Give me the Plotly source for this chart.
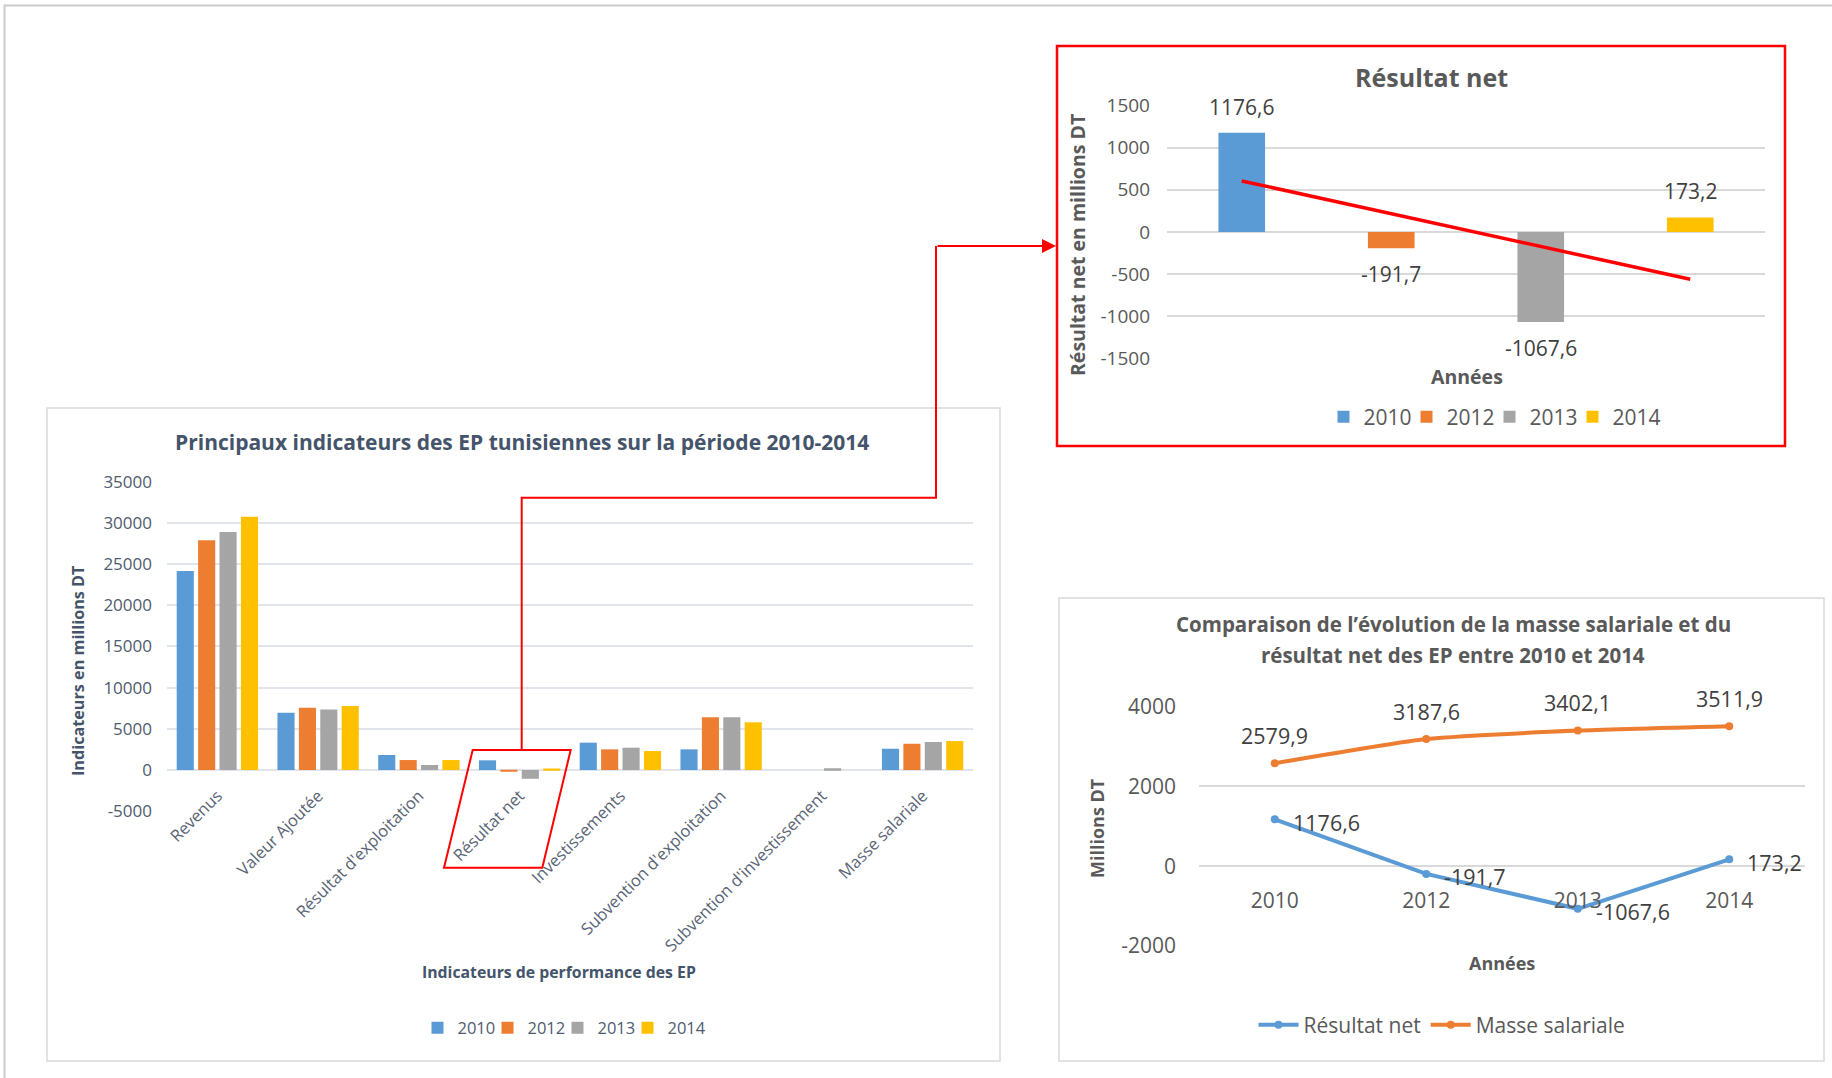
import plotly.graph_objects as go
import numpy as np

W, H = 1832, 1078
def px(x): return x / W
def py(y): return 1 - y / H

FONT = "Open Sans"

# ---------------- data ----------------
years = ["2010", "2012", "2013", "2014"]
year_colors = ["#5B9BD5", "#ED7D31", "#A5A5A5", "#FFC000"]

indicators = ["Revenus", "Valeur Ajoutée", "Résultat d'exploitation", "Résultat net",
              "Investissements", "Subvention d'exploitation", "Subvention d'investissement",
              "Masse salariale"]
ind_2010 = [24150, 6950, 1820, 1176.6, 3320, 2510, 0, 2579.9]
ind_2012 = [27900, 7570, 1210, -191.7, 2510, 6390, 0, 3187.6]
ind_2013 = [28900, 7360, 610, -1067.6, 2710, 6390, 200, 3402.1]
ind_2014 = [30750, 7770, 1210, 173.2, 2310, 5790, 0, 3511.9]
ind_series = [ind_2010, ind_2012, ind_2013, ind_2014]

resultat_net = [1176.6, -191.7, -1067.6, 173.2]
masse_salariale = [2579.9, 3187.6, 3402.1, 3511.9]

left_yticks = [-5000, 0, 5000, 10000, 15000, 20000, 25000, 30000, 35000]
rn_yticks = [-1500, -1000, -500, 0, 500, 1000, 1500]
cmp_yticks = [-2000, 0, 2000, 4000]

def fr(v):
    return f"{v:.1f}".replace(".", ",")

fig = go.Figure()

def blank_entry(xa, ya, leg):
    # blank trailing legend entry (keeps the last label of a compact legend from being clipped)
    fig.add_trace(go.Scatter(x=[None], y=[None], mode="markers", name=" ",
                             marker=dict(color="rgba(0,0,0,0)"), hoverinfo="skip",
                             xaxis=xa, yaxis=ya, legend=leg))

# ---------------- left chart: grouped bars ----------------
for yr, col, vals in zip(years, year_colors, ind_series):
    fig.add_trace(go.Bar(x=indicators, y=vals, name=yr, marker=dict(color=col, line=dict(width=0)),
                         xaxis="x", yaxis="y", legend="legend"))
blank_entry("x", "y", "legend")

# ---------------- top right: Résultat net bars ----------------
bw = 0.312
for yr, col, v in zip(years, year_colors, resultat_net):
    fig.add_trace(go.Bar(x=[yr], y=[v], name=yr, marker=dict(color=col, line=dict(width=0)),
                         width=bw, offset=-bw / 2, offsetgroup="rn",
                         xaxis="x2", yaxis="y2", legend="legend2"))
blank_entry("x2", "y2", "legend2")
# linear trend
idx = np.arange(len(years))
slope, inter = np.polyfit(idx, resultat_net, 1)
trend = inter + slope * idx
fig.add_trace(go.Scatter(x=years, y=trend, mode="lines", line=dict(color="#FF0000", width=3.5),
                         showlegend=False, xaxis="x2", yaxis="y2"))

# ---------------- bottom right: lines ----------------
fig.add_trace(go.Scatter(x=years, y=resultat_net, mode="lines+markers", name="Résultat net",
                         line=dict(color="#5B9BD5", width=4), marker=dict(size=8, color="#5B9BD5"),
                         xaxis="x3", yaxis="y3", legend="legend3"))
fig.add_trace(go.Scatter(x=years, y=masse_salariale, mode="lines+markers", name="Masse salariale",
                         line=dict(color="#ED7D31", width=4, shape="spline", smoothing=0.5),
                         marker=dict(size=8, color="#ED7D31"),
                         xaxis="x3", yaxis="y3", legend="legend3"))

# ---------------- axes ----------------
def zero_pos(dom, rng):
    return dom[0] + (0 - rng[0]) / (rng[1] - rng[0]) * (dom[1] - dom[0])

def lbl(vals):
    return [str(v) for v in vals]

y1_dom = [py(811.2), py(481.7)]
y1_rng = [-5000, 35000]
y2_dom = [py(358.5), py(105.5)]
y2_rng = [-1500, 1500]
y3_dom = [py(946), py(706.7)]
y3_rng = [-2000, 4000]
cat_rng = [-0.5, len(years) - 0.5]

fig.update_layout(
    xaxis=dict(domain=[px(167), px(973)], anchor="free", position=zero_pos(y1_dom, y1_rng),
               type="category", categoryorder="array", categoryarray=indicators, automargin=False,
               tickangle=-45, tickfont=dict(family=FONT, size=16.5, color="#5A6476"),
               showgrid=False, showline=False, ticks="", ticklabelstandoff=12, zeroline=False),
    yaxis=dict(domain=y1_dom, range=y1_rng, tickvals=left_yticks, ticktext=lbl(left_yticks), anchor="x",
               showgrid=True, gridcolor="#E1E5EB", gridwidth=1.5, zeroline=False, automargin=False,
               showline=False, ticks="", tickfont=dict(family=FONT, size=17, color="#4F5B6E"),
               ticklabelstandoff=14),
    xaxis2=dict(domain=[px(1167), px(1765)], anchor="y2", type="category", range=cat_rng,
                categoryorder="array", categoryarray=years, automargin=False,
                showticklabels=False, showgrid=False, showline=False, ticks="", zeroline=False),
    yaxis2=dict(domain=y2_dom, range=y2_rng, tickvals=rn_yticks, ticktext=lbl(rn_yticks), anchor="x2",
                showgrid=True, gridcolor="#D9D9D9", gridwidth=1.5, zeroline=False, automargin=False,
                showline=False, ticks="", tickfont=dict(family=FONT, size=19, color="#595959"),
                ticklabelstandoff=16),
    xaxis3=dict(domain=[px(1199), px(1805)], anchor="free", position=zero_pos(y3_dom, y3_rng),
                type="category", range=cat_rng, categoryorder="array", categoryarray=years,
                tickfont=dict(family=FONT, size=21, color="#595959"), automargin=False,
                showgrid=False, showline=False, ticks="", ticklabelstandoff=20, zeroline=False),
    yaxis3=dict(domain=y3_dom, range=y3_rng, tickvals=cmp_yticks, ticktext=lbl(cmp_yticks), anchor="x3",
                showgrid=True, gridcolor="#D9D9D9", gridwidth=1.5, zeroline=False, automargin=False,
                showline=False, ticks="", tickfont=dict(family=FONT, size=21, color="#595959"),
                ticklabelstandoff=22),
)

# ---------------- legends ----------------
fig.update_layout(
    legend=dict(orientation="h", x=px(558 + 34.5), y=py(1028), xanchor="center", yanchor="middle",
                font=dict(family=FONT, size=16.5, color="#4F5B6E"), itemwidth=30,
                entrywidth=25, bgcolor="rgba(0,0,0,0)"),
    legend2=dict(orientation="h", x=px(1490 + 41), y=py(417), xanchor="center", yanchor="middle",
                 font=dict(family=FONT, size=21, color="#595959"), itemwidth=30,
                 entrywidth=38, bgcolor="rgba(0,0,0,0)"),
    legend3=dict(orientation="h", x=px(1442), y=py(1025), xanchor="center", yanchor="middle",
                 font=dict(family=FONT, size=21, color="#595959"), itemwidth=40,
                 bgcolor="rgba(0,0,0,0)"),
)

# ---------------- annotations ----------------
ann = []
def txt(t, x, y, size, color, bold=False, angle=0):
    ann.append(dict(text=f"<b>{t}</b>" if bold else t, x=px(x), y=py(y), xref="paper", yref="paper",
                    showarrow=False, xanchor="center", yanchor="middle", textangle=angle,
                    font=dict(family=FONT, size=size, color=color)))

txt("Principaux indicateurs des EP tunisiennes sur la période 2010-2014", 522, 442, 21, "#44546A", True)
txt("Indicateurs en millions DT", 78, 671, 16.2, "#44546A", True, -90)
txt("Indicateurs de performance des EP", 559, 972, 15.8, "#44546A", True)

txt("Résultat net", 1431, 77, 25, "#595959", True)
txt("Résultat net en millions DT", 1077, 245, 19.5, "#595959", True, -90)
txt("Années", 1467, 377, 19.5, "#595959", True)

txt("Comparaison de l’évolution de la masse salariale et du", 1453, 624, 20.5, "#595959", True)
txt("résultat net des EP entre 2010 et 2014", 1453, 655, 20.5, "#595959", True)
txt("Millions DT", 1097, 828, 18, "#595959", True, -90)
txt("Années", 1502, 963, 18, "#595959", True)

# data labels top-right bars
for i, v in enumerate(resultat_net):
    ann.append(dict(text=fr(v), x=i, y=v, xref="x2", yref="y2", showarrow=False,
                    yshift=26 if v >= 0 else -26, font=dict(family=FONT, size=21, color="#404040")))
# data labels bottom-right
for i, v in enumerate(masse_salariale):
    ann.append(dict(text=fr(v), x=i, y=v, xref="x3", yref="y3", showarrow=False,
                    yshift=28, font=dict(family=FONT, size=21.5, color="#404040")))
for i, v in enumerate(resultat_net):
    ann.append(dict(text=fr(v), x=i, y=v, xref="x3", yref="y3", showarrow=False,
                    xanchor="left", xshift=16, yshift=-3,
                    font=dict(family=FONT, size=21.5, color="#404040")))

# arrow head of the connector
ann.append(dict(text="", x=px(1056), y=py(246), xref="paper", yref="paper",
                ax=-(1056 - 936), ay=0, axref="pixel", ayref="pixel",
                showarrow=True, arrowhead=2, arrowsize=1.4, arrowwidth=2, arrowcolor="#FF0000",
                standoff=0))
fig.update_layout(annotations=ann)

# ---------------- shapes ----------------
def path(points, close=False):
    s = "M " + " L ".join(f"{px(x)},{py(y)}" for x, y in points)
    return s + (" Z" if close else "")

shapes = [
    dict(type="path", path=path([(4.5, 1078), (4.5, 5.5), (1832, 5.5)]), xref="paper", yref="paper",
         line=dict(color="#CCCCCC", width=2)),
    dict(type="rect", x0=px(47), x1=px(1000), y0=py(408), y1=py(1061), xref="paper", yref="paper",
         line=dict(color="#D9D9D9", width=1.5)),
    dict(type="rect", x0=px(1059), x1=px(1824), y0=py(598), y1=py(1061), xref="paper", yref="paper",
         line=dict(color="#D9D9D9", width=1.5)),
    dict(type="rect", x0=px(1057), x1=px(1785), y0=py(46), y1=py(446), xref="paper", yref="paper",
         line=dict(color="#FF0000", width=2.5)),
    dict(type="path", path=path([(472.7, 750), (570.7, 750), (542.3, 867.7), (444, 867.7)], True),
         xref="paper", yref="paper", line=dict(color="#FF0000", width=2)),
    dict(type="path", path=path([(521.7, 750), (521.7, 497.7), (936, 497.7), (936, 246)]),
         xref="paper", yref="paper", line=dict(color="#FF0000", width=2)),
]
fig.update_layout(shapes=shapes)

fig.update_layout(
    width=W, height=H, margin=dict(l=0, r=0, t=0, b=0, pad=0, autoexpand=False),
    paper_bgcolor="white", plot_bgcolor="white",
    barmode="group", bargap=0.15, bargroupgap=0.2,
    font=dict(family=FONT, color="#595959"),
    showlegend=True,
)

fig.write_html("out.html", config={"displayModeBar": False},
               post_script="document.body.style.margin='0';document.body.style.overflow='hidden';")
